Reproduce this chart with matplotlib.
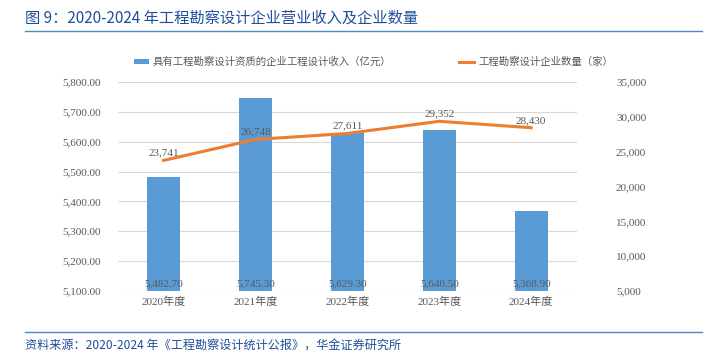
import matplotlib.pyplot as plt
from matplotlib.ticker import FuncFormatter

plt.rcParams['font.family'] = ['Liberation Serif', 'Noto Sans CJK SC']

years = ["2020年度", "2021年度", "2022年度", "2023年度", "2024年度"]
revenue = [5482.70, 5745.30, 5629.30, 5640.50, 5368.90]
companies = [23741, 26748, 27611, 29352, 28430]

bar_color = "#5B9BD5"
line_color = "#ED7D31"
text_gray = "#595959"
title_blue = "#1F4E9A"

fig = plt.figure(figsize=(7.09, 3.61), dpi=100)
ax = fig.add_axes([0.166, 0.194, 0.648, 0.579])
ax2 = ax.twinx()

x = range(len(years))
bars = ax.bar(x, revenue, width=0.36, color=bar_color, zorder=2,
              label="具有工程勘察设计资质的企业工程设计收入（亿元）")
ax.set_ylim(5100, 5800)
ax.set_yticks(range(5100, 5801, 100))
ax.yaxis.set_major_formatter(FuncFormatter(lambda v, p: f"{v:,.2f}"))
ax.grid(axis="y", color="#D9D9D9", linewidth=0.8, zorder=0)
ax.set_axisbelow(True)
ax.set_xticks(list(x))
ax.set_xticklabels(years)
ax.set_xlim(-0.5, len(years) - 0.5)

for xi, v in zip(x, revenue):
    ax.text(xi, 5110, f"{v:,.2f}", ha="center", va="bottom", fontsize=8, color=text_gray, zorder=3)

ax2.plot(list(x), companies, color=line_color, linewidth=2.2, zorder=3,
         label="工程勘察设计企业数量（家）")
ax2.set_ylim(5000, 35000)
ax2.set_yticks(range(5000, 35001, 5000))
ax2.yaxis.set_major_formatter(FuncFormatter(lambda v, p: f"{v:,.0f}"))
for xi, v in zip(x, companies):
    ax2.text(xi, v + 400, f"{v:,}", ha="center", va="bottom", fontsize=8, color=text_gray)

for a in (ax, ax2):
    for s in a.spines.values():
        s.set_visible(False)
    a.tick_params(length=0, labelsize=8, colors=text_gray)
ax.tick_params(axis="y", pad=12)
ax2.tick_params(axis="y", pad=28)
ax.tick_params(axis="x", pad=4)

h1, l1 = ax.get_legend_handles_labels()
h2, l2 = ax2.get_legend_handles_labels()
fig.legend(h1 + h2, l1 + l2, loc="center", bbox_to_anchor=(0.527, 0.828), ncol=2,
           frameon=False, fontsize=7.5, labelcolor=text_gray, handlelength=1.4,
           handleheight=0.4, handletextpad=0.4, columnspacing=6.5)

fig.text(0.035, 0.95, "图 9：2020-2024 年工程勘察设计企业营业收入及企业数量",
         fontsize=11, color=title_blue, family=["Noto Sans CJK SC", "DejaVu Sans"], va="center")
fig.add_artist(plt.Line2D([0.035, 0.99], [0.915, 0.915], color="#4A8AC8", linewidth=1))
fig.add_artist(plt.Line2D([0.035, 0.99], [0.08, 0.08], color="#4A8AC8", linewidth=1))
fig.text(0.035, 0.04, "资料来源：2020-2024 年《工程勘察设计统计公报》，华金证券研究所",
         fontsize=8.7, color=title_blue, style="italic",
         family=["Noto Sans CJK SC", "DejaVu Sans"], va="center")

fig.savefig("out.png", dpi=100)
